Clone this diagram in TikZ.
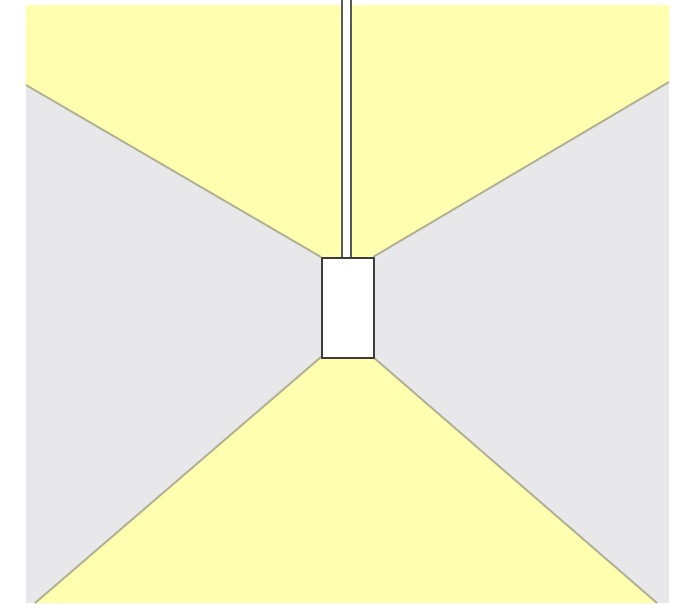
\documentclass[tikz,border=0pt]{standalone}
\begin{document}
\begin{tikzpicture}[x=1pt,y=-1pt]
\definecolor{lightyel}{RGB}{255,255,175}
\definecolor{lightgr}{RGB}{232,232,234}
\definecolor{edgeline}{RGB}{176,176,148}
\definecolor{boxline}{RGB}{60,60,60}
\tikzset{
  zone/.style={draw=none},
  edgeln/.style={draw=edgeline,line width=1.9pt},
  fixture/.style={draw=boxline,fill=white,line width=1.8pt},
  rodline/.style={draw=boxline!85,line width=2.4pt}
}
\useasboundingbox (0,0) rectangle (677,603);
% panel background
\fill[lightgr] (26,5) rectangle (669,603);
% corners of the fixture
\coordinate (tl) at (321,257);
\coordinate (tr) at (373,257);
\coordinate (bl) at (321,357);
\coordinate (br) at (373,357);
% edge ends
\coordinate (eul) at (26,85);
\coordinate (eur) at (669,82);
\coordinate (ebl) at (35,603);
\coordinate (ebr) at (657,603);
% yellow light beams
\fill[lightyel] (26,5) -- (669,5) -- (eur) -- (tr) -- (tl) -- (eul) -- cycle;
\fill[lightyel] (ebl) -- (bl) -- (br) -- (ebr) -- cycle;
% beam edges
\draw[edgeln] (eul) -- (tl);
\draw[edgeln] (eur) -- (tr);
\draw[edgeln] (ebl) -- (bl);
\draw[edgeln] (ebr) -- (br);
% rod
\fill[white] (342,0) rectangle (351,257);
\draw[rodline] (342,0) -- (342,257);
\draw[rodline] (351,0) -- (351,257);
% fixture
\node[fixture,minimum width=52pt,minimum height=100pt,inner sep=0pt,anchor=north west] (lamp) at (321,257) {};
\end{tikzpicture}
\end{document}
